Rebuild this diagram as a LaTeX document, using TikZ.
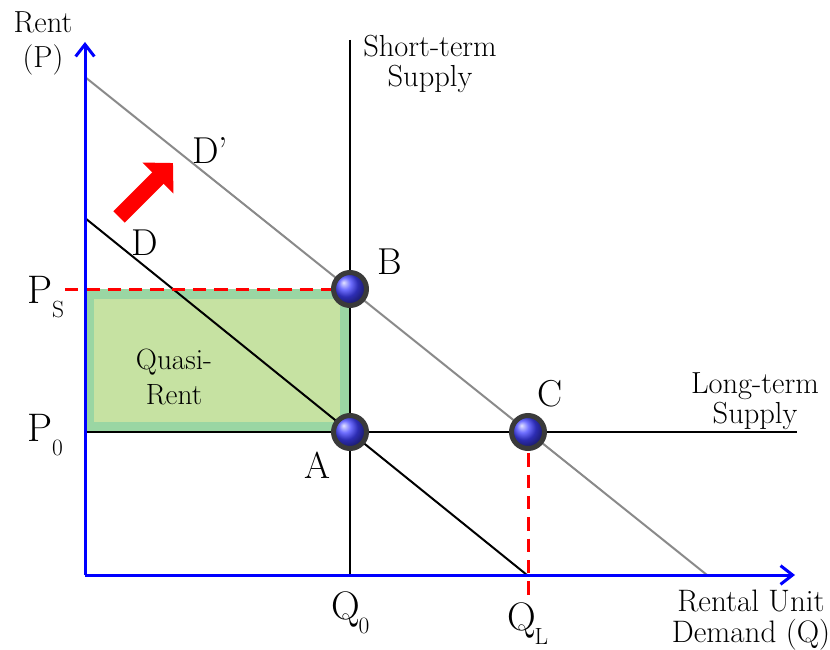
\documentclass[tikz,border=0pt]{standalone}
\usepackage{tikz}
\usetikzlibrary{arrows.meta,calc,positioning}
\definecolor{quasiedge}{HTML}{9AD6A3}
\definecolor{quasifill}{HTML}{C6E2A2}
\definecolor{demgray}{HTML}{8A8A8A}
\definecolor{balldark}{HTML}{3A3A3A}
\newcommand{\lowsub}[1]{\raisebox{-12pt}{\fontsize{20}{20}\selectfont #1}}

\begin{document}
\begin{tikzpicture}[x=0.3mm,y=-0.3mm, every node/.style={align=center,inner sep=0pt},
  ax/.style={draw=blue,line width=0.9mm,-{Straight Barb[length=3.6mm,width=5.6mm]}},
  sup/.style={draw=black,line width=0.6mm},
  dem/.style={line width=0.6mm},
  dsh/.style={draw=red,line width=0.9mm,dash pattern=on 4mm off 2.4mm},
  pt/.style={circle,minimum size=9.9mm,line width=1.5mm,draw=balldark,shading=ball,ball color=blue!75!white},
  big/.style={font=\fontsize{32}{34}\selectfont},
  mid/.style={font=\fontsize{26}{25.5}\selectfont}]
  \useasboundingbox (0,0) rectangle (830,650);
  % axes and curve ends
  \coordinate (O) at (85,575);
  \coordinate (ytip) at (85,42);
  \coordinate (xtip) at (795,575);
  \coordinate (sstop) at (350,40);
  \coordinate (ssbot) at (350,575);
  \coordinate (lsleft) at (85,432);
  \coordinate (lsright) at (797,432);
  \coordinate (dtop) at (85,218);
  \coordinate (dbot) at (527,575);
  \coordinate (ddtop) at (85,77);
  \coordinate (ddbot) at (707,575);
  \coordinate (pA) at (350,432);
  \coordinate (pB) at (350,289);
  \coordinate (pC) at (528,432);
  \coordinate (psleft) at (65,289);
  \coordinate (qlbot) at (528,597);
  % quasi-rent box
  \fill[quasiedge] (85,289) rectangle (pA);
  \fill[quasifill] (94,299) rectangle (340,422);
  \node[font=\fontsize{25}{30}\selectfont] (quasi) at (174,377) {Quasi-\\Rent};
  % lines
  \draw[sup] (sstop) -- (ssbot);
  \draw[sup] (lsleft) -- (lsright);
  \draw[dem,demgray] (ddtop) -- (ddbot);
  \draw[dem,black] (dtop) -- (dbot);
  \draw[dsh] (psleft) -- (pB);
  \draw[dsh] (pC) -- (qlbot);
  \draw[ax] (O) -- (ytip);
  \draw[ax] (O) -- (xtip);
  % shift arrow
  \draw[red,line width=4.8mm,-{Triangle[length=6.4mm,width=12.8mm]}] (119,217) -- (173,163);
  % points
  \node[pt] (A) at (pA) {};
  \node[pt] (B) at (pB) {};
  \node[pt] (C) at (pC) {};
  % labels
  \node[mid] (rent) at (43,22) {Rent};
  \node[mid] (pp) at (43,60) {(P)};
  \node[mid] (short) at (430,64) {Short-term\\Supply};
  \node[mid] (long) at (755,401) {Long-term\\Supply};
  \node[font=\fontsize{26.5}{26}\selectfont] (qaxis) at (751,620) {Rental Unit\\Demand (Q)};
  \node[big] (dd) at (210,150) {D’};
  \node[big] (d) at (145,243) {D};
  \node[big] (lB) at (390,262) {B};
  \node[big] (lC) at (550,394) {C};
  \node[big] (lA) at (317,465) {A};
  \node[font=\fontsize{34}{34}\selectfont,anchor=base west] (ps) at (27,303) {P\lowsub{S}};
  \node[font=\fontsize{34}{34}\selectfont,anchor=base west] (p0) at (27,441) {P\lowsub{0}};
  \node[font=\fontsize{34}{34}\selectfont,anchor=base west] (q0) at (331,619) {Q\kern-1pt\lowsub{0}};
  \node[font=\fontsize{34}{34}\selectfont,anchor=base west] (ql) at (507,630) {Q\kern-1pt\lowsub{L}};
\end{tikzpicture}
\end{document}
